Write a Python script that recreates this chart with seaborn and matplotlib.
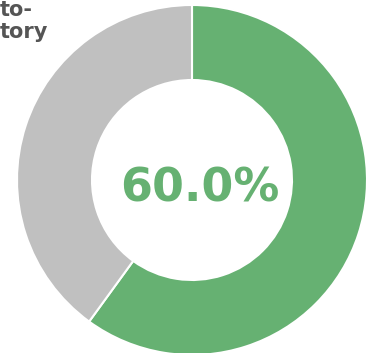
import matplotlib
matplotlib.use("Agg")
import matplotlib.pyplot as plt
import seaborn as sns

sns.set_theme(style="white")
plt.rcParams['font.family'] = ['DejaVu Sans']

labels = ["Converted", "Remaining"]
values = [60.0, 40.0]
colors = ["#66b172", "#c0c0c0"]
center_label = "60.0%"
title_lines = ["to-", "tory"]

W, H = 369, 353
fig = plt.figure(figsize=(W / 100, H / 100), dpi=100)
ax = fig.add_axes([17 / W, -2 / H, 350 / W, 350 / H])
ax.pie(values, colors=colors, startangle=90, counterclock=False, radius=1.0,
       wedgeprops=dict(width=1 - 100 / 175, edgecolor="white", linewidth=1.5))
ax.set_xlim(-1, 1)
ax.set_ylim(-1, 1)
ax.set_aspect("equal")
ax.axis("off")
ax.text(0.045, -0.05, center_label, ha="center", va="center", fontsize=33,
        fontweight="bold", color="#66b172")
for line, base in zip(title_lines, [16, 38]):
    fig.text(0 / W, 1 - base / H, line, ha="left", va="baseline", fontsize=15,
             fontweight="bold", color="#555555")
fig.savefig("out.png", dpi=100)
